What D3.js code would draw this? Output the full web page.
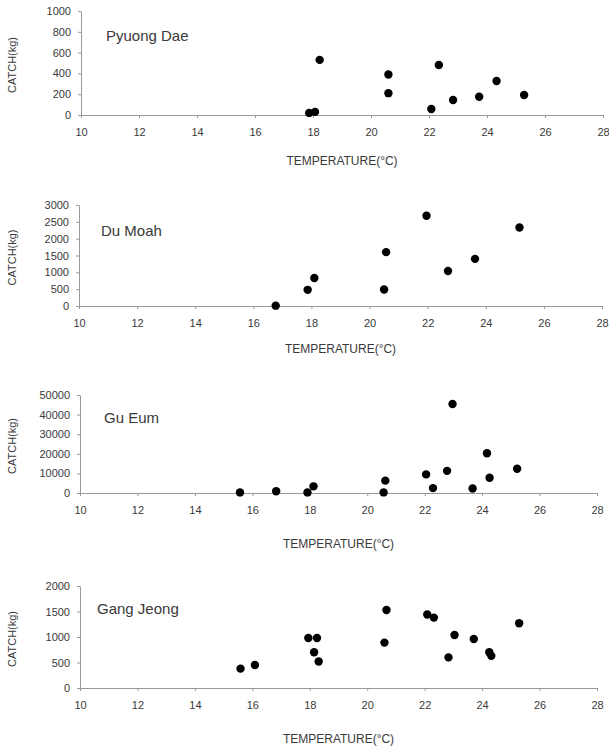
<!DOCTYPE html>
<html>
<head>
<meta charset="utf-8">
<script src="https://cdnjs.cloudflare.com/ajax/libs/d3/7.8.5/d3.min.js"></script>
<style>
  body { margin: 0; background: #fff; }
  svg text { font-family: Arial, "Liberation Sans", sans-serif; fill: #3a3a3a; }
  .axis path, .axis line { stroke: #999; }
</style>
</head>
<body>
<div id="chart"></div>
<script>
// values: water temperature (°C) vs catch (kg)
var stationNames = ['Pyuong Dae', 'Du Moah', 'Gu Eum', 'Gang Jeong'];

var pyuongTemp  = [17.87, 18.07, 18.23, 20.6, 20.6, 22.08, 22.34, 22.83, 23.73, 24.33, 25.28];
var pyuongCatch = [20, 30, 530, 390, 210, 58, 481, 144, 176, 327, 192];

var duMoahTemp  = [16.77, 17.87, 18.1, 20.5, 20.57, 21.96, 22.7, 23.63, 25.16];
var duMoahCatch = [10, 480, 830, 490, 1600, 2680, 1040, 1400, 2330];

var guEumTemp  = [15.57, 16.83, 17.92, 18.13, 20.57, 20.63, 22.05, 22.29, 22.78, 22.97, 23.67, 24.17, 24.26, 25.22];
var guEumCatch = [300, 900, 300, 3400, 300, 6300, 9500, 2500, 11300, 45400, 2300, 20300, 7800, 12400];

var gangTemp  = [15.59, 16.09, 17.95, 18.25, 18.15, 18.31, 20.6, 20.67, 22.09, 22.32, 22.83, 23.04, 23.71, 24.25, 24.32, 25.29];
var gangCatch = [380, 450, 980, 980, 700, 520, 890, 1530, 1440, 1380, 600, 1040, 960, 700, 630, 1270];

var xTicks = [10, 12, 14, 16, 18, 20, 22, 24, 26, 28];
var yMax   = [1000, 3000, 50000, 2000];
var yStep  = [200, 500, 10000, 500];

var xLabel = 'TEMPERATURE(\u00B0C)';
var yLabel = 'CATCH(kg)';

// panel placement on the page
var panels = [
  {top: 11,  bottom: 115, left: 81, right: 603, titleX: 106, titleY: 37,  xTitleY: 162},
  {top: 205, bottom: 306, left: 79, right: 602, titleX: 101, titleY: 232, xTitleY: 350},
  {top: 395, bottom: 493, left: 80, right: 597, titleX: 104, titleY: 419, xTitleY: 545},
  {top: 586, bottom: 688, left: 80, right: 597, titleX: 97,  titleY: 610, xTitleY: 740}
];

ScatterVis = function(_svg, _panel, _temps, _catches, _name, _yMax, _yStep) {
  this.svg = _svg;
  this.panel = _panel;
  this.temps = _temps;
  this.catches = _catches;
  this.name = _name;
  this.yMax = _yMax;
  this.yStep = _yStep;

  this.initVis();
};

ScatterVis.prototype.initVis = function() {
  var vis = this;
  var p = vis.panel;

  vis.x = d3.scaleLinear().domain([10, 28]).range([p.left, p.right]);
  vis.y = d3.scaleLinear().domain([0, vis.yMax]).range([p.bottom, p.top]);

  vis.g = vis.svg.append('g');

  var yTicks = d3.range(0, vis.yMax + 1, vis.yStep);

  vis.g.append('g')
    .attr('class', 'axis')
    .attr('transform', 'translate(' + p.left + ',0)')
    .call(d3.axisLeft(vis.y).tickValues(yTicks).tickFormat(d3.format('d'))
      .tickSize(3).tickSizeOuter(0).tickPadding(7))
    .selectAll('text')
    .style('font-size', '11px');

  vis.g.append('g')
    .attr('class', 'axis')
    .attr('transform', 'translate(0,' + p.bottom + ')')
    .call(d3.axisBottom(vis.x).tickValues(xTicks).tickFormat(d3.format('d'))
      .tickSize(3).tickSizeOuter(0).tickPadding(10))
    .selectAll('text')
    .style('font-size', '11px');

  vis.g.append('text')
    .attr('x', (p.left + p.right) / 2)
    .attr('y', p.xTitleY)
    .attr('text-anchor', 'middle')
    .attr('dominant-baseline', 'middle')
    .style('font-size', '12px')
    .text(xLabel);

  vis.g.append('text')
    .attr('transform', 'translate(13,' + ((p.top + p.bottom) / 2 + 2) + ') rotate(-90)')
    .attr('text-anchor', 'middle')
    .attr('dominant-baseline', 'middle')
    .style('font-size', '11px')
    .text(yLabel);

  vis.g.append('text')
    .attr('x', p.titleX)
    .attr('y', p.titleY)
    .attr('dominant-baseline', 'middle')
    .style('font-size', '15px')
    .text(vis.name);

  vis.updateVis();
};

ScatterVis.prototype.updateVis = function() {
  var vis = this;

  var pts = vis.temps.map(function(t, i) {
    return {temp: t, catch: vis.catches[i]};
  });

  vis.g.selectAll('circle')
    .data(pts)
    .enter()
    .append('circle')
    .attr('cx', function(d) { return vis.x(d.temp); })
    .attr('cy', function(d) { return vis.y(d.catch); })
    .attr('r', 4.2)
    .attr('fill', '#000');
};

var svg = d3.select('#chart').append('svg')
  .attr('width', 609)
  .attr('height', 747);

var temps = [pyuongTemp, duMoahTemp, guEumTemp, gangTemp];
var catches = [pyuongCatch, duMoahCatch, guEumCatch, gangCatch];

stationNames.forEach(function(name, i) {
  new ScatterVis(svg, panels[i], temps[i], catches[i], name, yMax[i], yStep[i]);
});
</script>
</body>
</html>
